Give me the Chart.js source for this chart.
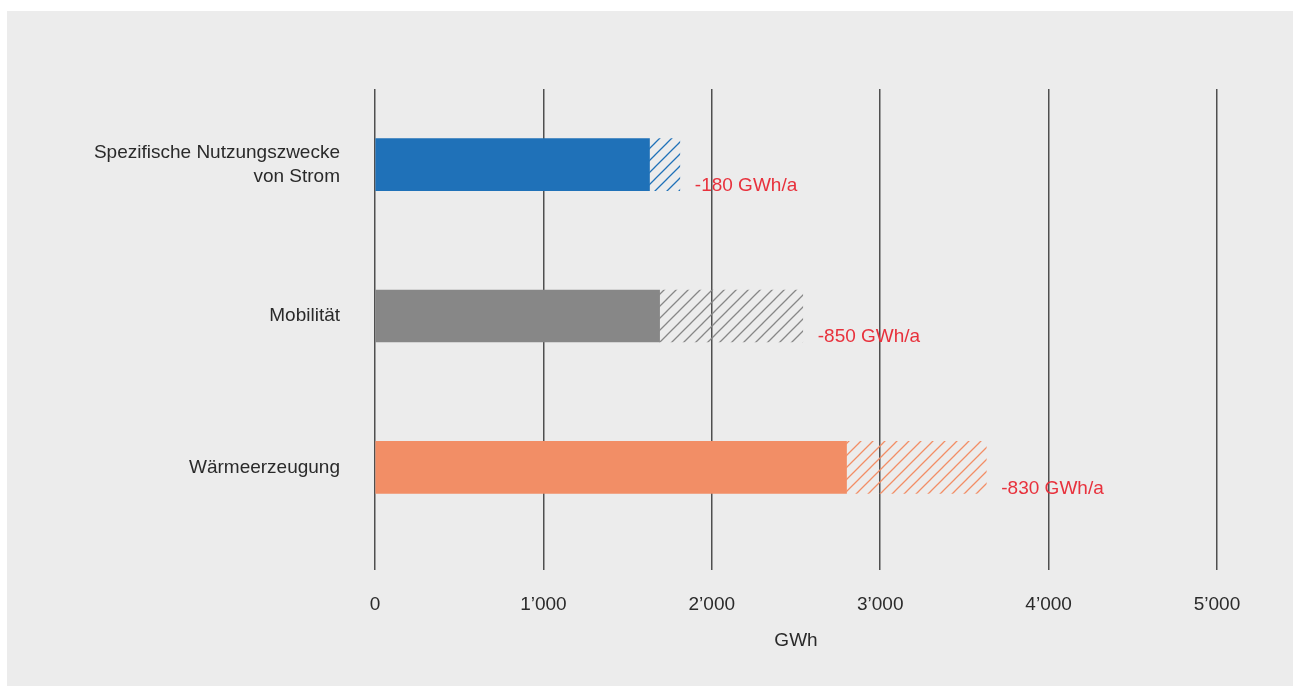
<!DOCTYPE html>
<html>
<head>
<meta charset="utf-8">
<script src="https://cdn.jsdelivr.net/npm/chart.js@4.4.0/dist/chart.umd.min.js"></script>
<style>
  html,body{margin:0;padding:0;background:#fff;}
  #wrap{position:absolute;left:7px;top:11px;width:1286px;height:675px;background:#ececec;}
</style>
</head>
<body>
<div id="wrap"><canvas id="chart" width="1286" height="675"></canvas></div>
<script>
// Daten
const kategorien = [["Spezifische Nutzungszwecke","von Strom"], "Mobilität", "Wärmeerzeugung"];
const basisWerte = [1630, 1690, 2800];
const reduktion  = [180, 850, 830];
const reduktionLabels = ["-180 GWh/a", "-850 GWh/a", "-830 GWh/a"];
const tickLabels = {0:"0", 1000:"1’000", 2000:"2’000", 3000:"3’000", 4000:"4’000", 5000:"5’000"};
const farben = ["#1f71b8", "#878787", "#f28e66"];

function hatch(color){
  const c = document.createElement("canvas");
  c.width = 12; c.height = 12;
  const g = c.getContext("2d");
  g.strokeStyle = color; g.lineWidth = 1.3;
  g.beginPath();
  g.moveTo(0,12); g.lineTo(12,0);
  g.moveTo(-6,6); g.lineTo(6,-6);
  g.moveTo(6,18); g.lineTo(18,6);
  g.stroke();
  return g.createPattern(c, "repeat");
}

const FONT = "'Liberation Sans', Arial, sans-serif";

const labelPlugin = {
  id: "reduktionLabels",
  afterDatasetsDraw(chart){
    const meta = chart.getDatasetMeta(1);
    const ctx = chart.ctx;
    ctx.save();
    ctx.font = "19px " + FONT;
    ctx.fillStyle = "#e8313c";
    ctx.textAlign = "left";
    ctx.textBaseline = "middle";
    meta.data.forEach((bar, i)=>{
      ctx.fillText(reduktionLabels[i], bar.x + 15, bar.y + 21);
    });
    ctx.restore();
  }
};

new Chart(document.getElementById("chart"), {
  type: "bar",
  data: {
    labels: kategorien,
    datasets: [
      { data: basisWerte, backgroundColor: farben, barThickness: 52 },
      { data: reduktion, backgroundColor: farben.map(hatch), barThickness: 52 }
    ]
  },
  options: {
    indexAxis: "y",
    responsive: false,
    animation: false,
    layout: { padding: { top: 78, right: 76, bottom: 0, left: 0 } },
    plugins: { legend: { display: false }, tooltip: { enabled: false } },
    scales: {
      x: {
        stacked: true, min: 0, max: 5000,
        afterFit: s => { s.height = 143; },
        border: { display: false },
        grid: { color: "#4f4f4f", lineWidth: 1.5, drawTicks: true, tickLength: 27, tickColor: "#4f4f4f" },
        ticks: { stepSize: 1000, padding: 23, color: "#2a2a2a", font: { family: FONT, size: 19 },
                 callback: v => tickLabels[v] },
        title: { display: true, text: "GWh", color: "#2a2a2a", font: { family: FONT, size: 19 }, padding: { bottom: 34 } }
      },
      y: {
        stacked: true,
        afterFit: s => { s.width = 368; },
        border: { display: false },
        grid: { display: false, drawTicks: false },
        ticks: { padding: 35, color: "#2a2a2a", font: { family: FONT, size: 19, lineHeight: 1.25 } }
      }
    }
  },
  plugins: [labelPlugin]
});
</script>
</body>
</html>
